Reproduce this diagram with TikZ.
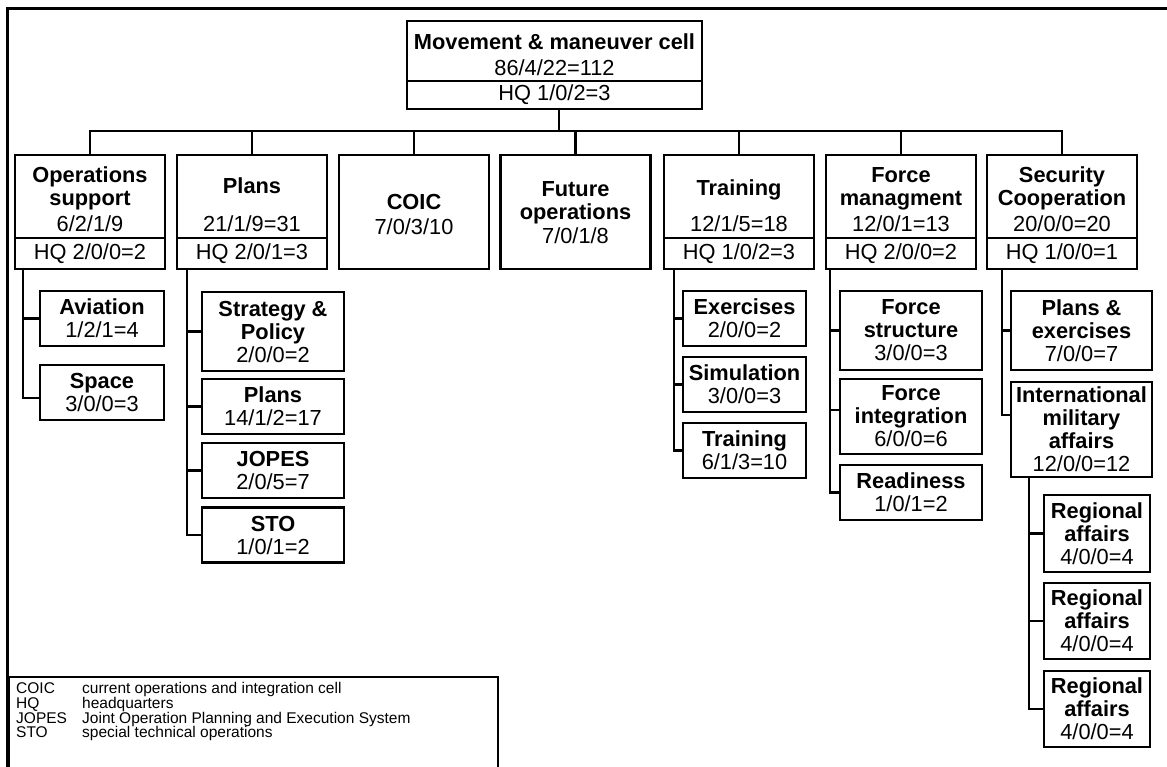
\documentclass[tikz,border=0pt]{standalone}
\usepackage{fontspec}
\setmainfont{Liberation Sans}
\newcommand\orgfont{\fontsize{21.8}{23}\selectfont}
\newcommand\legfont{\fontsize{15.5}{14.6}\selectfont\lineskiplimit=-20pt}
\tikzset{
  conn/.style={line width=2.4pt, line join=miter},
  unitbox/.style={draw, line width=2.4pt, inner sep=0pt, minimum width=150pt},
  upper/.style={unitbox, minimum height=83pt},
  tall/.style={unitbox, minimum height=114pt},
  hqbox/.style={unitbox, minimum height=31pt, font=\orgfont},
  ttl/.style={font=\orgfont\bfseries, align=center, inner sep=0pt, text depth=0pt},
  num/.style={font=\orgfont, inner sep=0pt, text depth=0pt},
  subbox/.style={draw, line width=2.4pt, inner sep=0pt, align=center, font=\orgfont},
}
\begin{document}
\begin{tikzpicture}[x=1pt,y=-1pt]
\useasboundingbox (0,0) rectangle (1167,766);
\clip (0,0) rectangle (1167,766);
% outer frame
\draw[line width=3.2pt] (7.5,790) -- (7.5,8.5) -- (1190,8.5);

% head of the cell
\node[unitbox, minimum width=295pt, minimum height=60pt] (mmc) at (554.5,51) {};
\node[hqbox, minimum width=295pt, minimum height=28pt] (mmchq) at (554.5,95) {HQ 1/0/2=3};
\node[ttl] (mmct) at (554.5,42) {Movement \& maneuver cell};
\node[num] (mmcn) at (554.5,68) {86/4/22=112};

% sections
\node[upper] (ops) at (90,196.5) {};
\node[hqbox] (opshq) at (90,253.5) {HQ 2/0/0=2};
\node[ttl] (opst) at (90,186) {Operations\\support};
\node[num] (opsn) at (90,224) {6/2/1/9};

\node[upper] (plans) at (252,196.5) {};
\node[hqbox] (planshq) at (252,253.5) {HQ 2/0/1=3};
\node[ttl] (planst) at (252,186) {Plans};
\node[num] (plansn) at (252,224) {21/1/9=31};

\node[tall] (coic) at (414,212) {};
\node[ttl] (coict) at (414,202) {COIC};
\node[num] (coicn) at (414,227) {7/0/3/10};

\node[tall] (fut) at (575.5,212) {};
\node[ttl] (futt) at (575.5,200) {Future\\operations};
\node[num] (futn) at (575.5,236) {7/0/1/8};

\node[upper] (trn) at (739,196.5) {};
\node[hqbox] (trnhq) at (739,253.5) {HQ 1/0/2=3};
\node[ttl] (trnt) at (739,188) {Training};
\node[num] (trnn) at (739,224) {12/1/5=18};

\node[upper] (frc) at (901,196.5) {};
\node[hqbox] (frchq) at (901,253.5) {HQ 2/0/0=2};
\node[ttl] (frct) at (901,186) {Force\\managment};
\node[num] (frcn) at (901,224) {12/0/1=13};

\node[upper] (sec) at (1062,196.5) {};
\node[hqbox] (sechq) at (1062,253.5) {HQ 1/0/0=1};
\node[ttl] (sect) at (1062,186) {Security\\Cooperation};
\node[num] (secn) at (1062,224) {20/0/0=20};

% branches: operations support
\node[subbox, minimum width=124pt, minimum height=55pt] (av) at (102,318.5) {\textbf{Aviation}\\1/2/1=4};
\node[subbox, minimum width=124pt, minimum height=55pt] (sp) at (102,392.5) {\textbf{Space}\\3/0/0=3};

% branches: plans
\node[subbox, minimum width=142pt, minimum height=79pt] (stp) at (273,331.5) {\textbf{Strategy \&}\\\textbf{Policy}\\2/0/0=2};
\node[subbox, minimum width=142pt, minimum height=55pt] (pl) at (273,406.5) {\textbf{Plans}\\14/1/2=17};
\node[subbox, minimum width=142pt, minimum height=55pt] (jo) at (273,470.5) {\textbf{JOPES}\\2/0/5=7};
\node[subbox, minimum width=142pt, minimum height=55pt] (sto) at (273,535) {\textbf{STO}\\1/0/1=2};

% branches: training
\node[subbox, minimum width=123pt, minimum height=55pt] (ex) at (744.5,318.5) {\textbf{Exercises}\\2/0/0=2};
\node[subbox, minimum width=123pt, minimum height=55pt] (sim) at (744.5,384.5) {\textbf{Simulation}\\3/0/0=3};
\node[subbox, minimum width=123pt, minimum height=55pt] (trs) at (744.5,450.5) {\textbf{Training}\\6/1/3=10};

% branches: force management
\node[subbox, minimum width=142pt, minimum height=79pt] (fs) at (911,330.5) {\textbf{Force}\\\textbf{structure}\\3/0/0=3};
\node[subbox, minimum width=142pt, minimum height=75pt] (fi) at (911,416.5) {\textbf{Force}\\\textbf{integration}\\6/0/0=6};
\node[subbox, minimum width=142pt, minimum height=55pt] (rd) at (911,492.5) {\textbf{Readiness}\\1/0/1=2};

% branches: security cooperation
\node[subbox, minimum width=141pt, minimum height=79pt] (pe) at (1081.5,330.5) {\textbf{Plans \&}\\\textbf{exercises}\\7/0/0=7};
\node[subbox, minimum width=141pt, minimum height=95pt] (ima) at (1081.5,429.5) {\textbf{International}\\\textbf{military}\\\textbf{affairs}\\12/0/0=12};
\node[subbox, minimum width=106pt, minimum height=77pt] (ra1) at (1097,533.5) {\textbf{Regional}\\\textbf{affairs}\\4/0/0=4};
\node[subbox, minimum width=106pt, minimum height=76pt] (ra2) at (1097,621) {\textbf{Regional}\\\textbf{affairs}\\4/0/0=4};
\node[subbox, minimum width=106pt, minimum height=76pt] (ra3) at (1097,709) {\textbf{Regional}\\\textbf{affairs}\\4/0/0=4};

% connectors from the head to the sections
\coordinate (bus) at (559,131);
\draw[conn] (mmchq.south -| bus) -- (bus);
\draw[conn] (ops.north) -- (ops.north |- bus) -- (sec.north |- bus) -- (sec.north);
\foreach \n in {plans,coic,fut,trn,frc} \draw[conn] (\n.north) -- (\n.north |- bus);

% trunk lines of the branches
\coordinate (opsx) at (23,0);
\coordinate (plansx) at (187,0);
\coordinate (trnx) at (674,0);
\coordinate (frcx) at (830,0);
\coordinate (secx) at (1002,0);
\coordinate (imax) at (1029,0);

\draw[conn] (opshq.south -| opsx) |- (av.west);
\draw[conn] (opshq.south -| opsx) |- ([yshift=-5.5pt]sp.west);

\draw[conn] (planshq.south -| plansx) |- (stp.west);
\draw[conn] (planshq.south -| plansx) |- (pl.west);
\draw[conn] (planshq.south -| plansx) |- (jo.west);
\draw[conn] (planshq.south -| plansx) |- (sto.west);

\draw[conn] (trnhq.south -| trnx) |- (ex.west);
\draw[conn] (trnhq.south -| trnx) |- (sim.west);
\draw[conn] (trnhq.south -| trnx) |- (trs.west);

\draw[conn] (frchq.south -| frcx) |- (fs.west);
\draw[conn] (frchq.south -| frcx) |- ([yshift=6.5pt]fi.west);
\draw[conn] (frchq.south -| frcx) |- (rd.west);

\draw[conn] (sechq.south -| secx) |- (pe.west);
\draw[conn] (sechq.south -| secx) |- ([yshift=14.5pt]ima.west);

\draw[conn] (ima.south -| imax) |- (ra1.west);
\draw[conn] (ima.south -| imax) |- (ra2.west);
\draw[conn] (ima.south -| imax) |- (ra3.west);

% legend of abbreviations
\node[draw, line width=2.4pt, anchor=north west, minimum width=489.5pt, minimum height=120pt, inner sep=0pt] (legend) at (7.5,676) {};
\node[anchor=north west, inner sep=0pt, align=left, font=\legfont] (legtext) at (16,682.5)
  {\makebox[66pt][l]{COIC}current operations and integration cell\\
   \makebox[66pt][l]{HQ}headquarters\\
   \makebox[66pt][l]{JOPES}Joint Operation Planning and Execution System\\
   \makebox[66pt][l]{STO}special technical operations};
\end{tikzpicture}
\end{document}
